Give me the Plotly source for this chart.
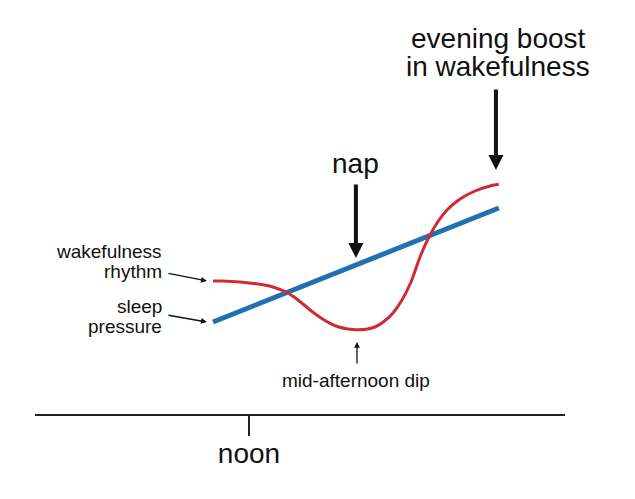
import plotly.graph_objects as go

# time of day in hours, levels in arbitrary units (0 = time axis)
rhythm_hours = [11.0, 11.25, 11.5, 11.75, 12.0, 12.25, 12.5, 12.75, 13.0, 13.25,
                13.5, 13.75, 14.0, 14.25, 14.5, 14.75, 15.0, 15.25, 15.5, 15.75,
                16.0, 16.25, 16.5, 16.75, 17.0, 17.25, 17.5, 17.75, 18.0, 18.25,
                18.5, 18.75, 18.94]
rhythm_level = [133, 133, 132.5, 132, 131, 130, 128.5, 126, 122.5, 117,
                110, 102.5, 96, 90.7, 87, 85, 84.2, 84.7, 87, 92.5,
                101, 114, 132, 157, 177, 192.5, 204, 212, 218, 222.5,
                226, 228.5, 229.7]

pressure_hours = [11.0, 18.94]
pressure_level = [92, 206]

tick_hours = [12]
tick_text = ["noon"]

FONT = "Liberation Sans, Arial, sans-serif"
RED = "#cf2b36"
BLUE = "#2070b2"
INK = "#111111"

# page body adds an 8px margin, so the figure is drawn a little smaller
W, H = 627, 491

fig = go.Figure()

fig.add_trace(go.Scatter(
    x=pressure_hours, y=pressure_level, mode="lines",
    line=dict(color=BLUE, width=5), hoverinfo="skip",
))
fig.add_trace(go.Scatter(
    x=rhythm_hours, y=rhythm_level, mode="lines",
    line=dict(color=RED, width=3, shape="spline", smoothing=0.5), hoverinfo="skip",
))

"""
## Labels
"""

def label(text, x, y, size, anchor="center"):
    fig.add_annotation(x=x, y=y, text=text, showarrow=False, xanchor=anchor,
                       font=dict(family=FONT, size=size, color=INK))


def arrow(x0, y0, x1, y1, width, size):
    fig.add_annotation(x=x1, y=y1, ax=x0, ay=y0, axref="x", ayref="y", text="",
                       showarrow=True, arrowhead=2, arrowwidth=width,
                       arrowsize=size, arrowcolor=INK)


label("evening boost", 18.92, 375.4, 28)
label("in wakefulness", 18.92, 347.4, 28)
label("nap", 14.97, 250.4, 28)
label("wakefulness", 9.65, 163, 19, "right")
label("rhythm", 9.65, 143, 19, "right")
label("sleep", 9.65, 107.5, 19, "right")
label("pressure", 9.65, 87.5, 19, "right")
label("mid-afternoon dip", 14.97, 34, 19)

arrow(18.86, 326, 18.86, 244, 4, 0.75)
arrow(14.97, 231, 14.97, 156, 4, 0.75)
arrow(9.72, 141, 10.83, 133, 1.3, 0.9)
arrow(9.72, 99, 10.83, 92, 1.3, 0.9)
arrow(15.0, 49, 15.0, 72, 1.3, 0.9)

fig.update_layout(
    width=W, height=H,
    margin=dict(l=0, r=0, t=0, b=0),
    paper_bgcolor="white", plot_bgcolor="white",
    showlegend=False,
    xaxis=dict(domain=[27 / W, 557 / W], range=[6.056, 20.778],
               showgrid=False, zeroline=False, showline=True,
               linecolor="#222222", linewidth=1.5,
               ticks="outside", ticklen=20, tickwidth=1.5, tickcolor="#222222",
               tickvals=tick_hours, ticktext=tick_text, ticklabelstandoff=-6,
               tickfont=dict(family=FONT, size=28, color=INK)),
    yaxis=dict(domain=[(H - 406) / H, 1], range=[0, 406], visible=False),
)

fig.write_html("out.html")
